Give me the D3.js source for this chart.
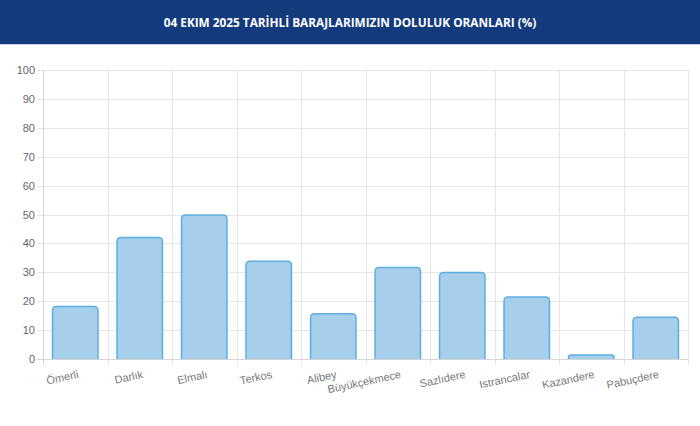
<!DOCTYPE html>
<html>
<head>
    <meta charset="utf-8">
    <title>Baraj Doluluk Oranları</title>
    <script src="https://d3js.org/d3.v7.min.js"></script>
    <style>
        body { margin: 0; background: #fff; }
        .grid line { stroke: #e6e6e6; }
        .tick text { fill: #666; font-family: "Liberation Sans", Arial, sans-serif; font-size: 11px; }
    </style>
</head>
<body>
    <svg id="chart" width="700" height="426"></svg>

    <script>
        // Data
        const titleText = '04 EKIM 2025 TARİHLİ BARAJLARIMIZIN DOLULUK ORANLARI (%)';
        const dams = ['Ömerli', 'Darlık', 'Elmalı', 'Terkos', 'Alibey', 'Büyükçekmece',
                      'Sazlıdere', 'Istrancalar', 'Kazandere', 'Pabuçdere'];
        const fillRates = [18.3, 42.2, 50.0, 34.0, 15.8, 31.8, 30.1, 21.6, 1.6, 14.6];
        const yTicks = [0, 10, 20, 30, 40, 50, 60, 70, 80, 90, 100];

        const svg = d3.select('#chart');

        // Title bar
        svg.append('rect')
            .attr('x', 0).attr('y', 0)
            .attr('width', 700).attr('height', 44)
            .attr('fill', '#143a7e');
        svg.append('line')
            .attr('x1', 0).attr('x2', 700)
            .attr('y1', 44.5).attr('y2', 44.5)
            .attr('stroke', '#c9d3e3');
        svg.append('text')
            .attr('x', 350).attr('y', 27)
            .attr('text-anchor', 'middle')
            .attr('fill', '#fff')
            .style('font-family', '"Open Sans", sans-serif')
            .style('font-weight', 'bold')
            .style('font-size', '11.8px')
            .text(titleText);

        // Plot area
        const plotLeft = 43, plotRight = 688, plotTop = 70, plotBottom = 359;

        const x = d3.scaleBand()
            .domain(dams)
            .range([plotLeft, plotRight])
            .paddingInner(0.28)
            .paddingOuter(0.14);

        const y = d3.scaleLinear()
            .domain([0, 100])
            .range([plotBottom, plotTop]);

        const step = (plotRight - plotLeft) / dams.length;

        // Horizontal grid
        svg.append('g')
            .attr('class', 'grid')
            .selectAll('line')
            .data(yTicks)
            .enter()
            .append('line')
            .attr('x1', plotLeft - 6).attr('x2', plotRight)
            .attr('y1', d => Math.round(y(d)) + 0.5)
            .attr('y2', d => Math.round(y(d)) + 0.5);

        // Vertical grid (category boundaries)
        svg.append('g')
            .attr('class', 'grid')
            .selectAll('line')
            .data(d3.range(dams.length + 1))
            .enter()
            .append('line')
            .attr('x1', i => Math.round(plotLeft + i * step) + 0.5)
            .attr('x2', i => Math.round(plotLeft + i * step) + 0.5)
            .attr('y1', plotTop)
            .attr('y2', plotBottom + 6);

        // Axis lines
        svg.append('line')
            .attr('x1', plotLeft + 0.5).attr('x2', plotLeft + 0.5)
            .attr('y1', plotTop).attr('y2', plotBottom + 6)
            .attr('stroke', '#d4d4d4');
        svg.append('line')
            .attr('x1', plotLeft - 6).attr('x2', plotRight)
            .attr('y1', plotBottom + 0.5).attr('y2', plotBottom + 0.5)
            .attr('stroke', '#d4d4d4');

        // Y axis labels
        const yAxis = d3.axisLeft(y)
            .tickValues(yTicks)
            .tickSize(0)
            .tickPadding(8);
        svg.append('g')
            .attr('transform', `translate(${plotLeft},0)`)
            .call(yAxis)
            .call(g => g.select('.domain').remove());

        // Bars with rounded top corners
        function barPath(d, i) {
            const x0 = x(dams[i]) + 0.5, w = x.bandwidth() - 1;
            const y0 = y(d) + 0.5, y1 = y(0);
            const r = Math.min(4, (y1 - y0) / 2);
            return `M${x0},${y1}V${y0 + r}Q${x0},${y0} ${x0 + r},${y0}` +
                   `H${x0 + w - r}Q${x0 + w},${y0} ${x0 + w},${y0 + r}V${y1}`;
        }

        svg.append('g')
            .selectAll('path')
            .data(fillRates)
            .enter()
            .append('path')
            .attr('d', barPath)
            .attr('fill', '#a6cfeb')
            .attr('stroke', '#5eaee2')
            .attr('stroke-width', 1.5);

        // Rotated X labels, anchored at the band centre
        svg.append('g')
            .selectAll('text')
            .data(dams)
            .enter()
            .append('text')
            .attr('transform', d => `translate(${x(d) + x.bandwidth() / 2 + 3},${plotBottom + 15}) rotate(-12)`)
            .attr('text-anchor', 'end')
            .attr('dy', '0.35em')
            .attr('fill', '#777')
            .style('font-family', '"Liberation Sans", Arial, sans-serif')
            .style('font-size', '11px')
            .text(d => d);
    </script>
</body>
</html>
